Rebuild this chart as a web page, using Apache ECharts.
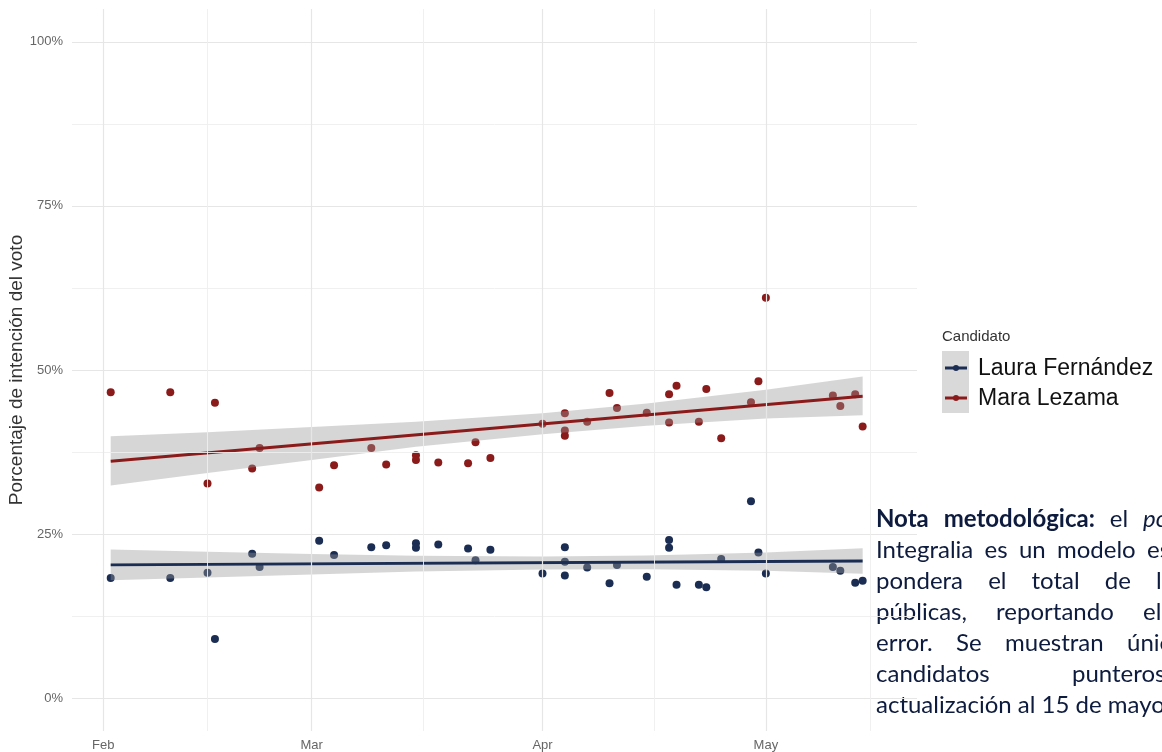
<!DOCTYPE html>
<html><head><meta charset="utf-8">
<script src="https://cdn.jsdelivr.net/npm/echarts@6/dist/echarts.min.js"></script>
<style>html,body{margin:0;padding:0;background:#fff}#c{width:1162px;height:752px}</style>
</head><body><div id="c"></div>
<script>
// ---------- data ----------
const candidates = ['Laura Fernández', 'Mara Lezama'];
const pollDates = ['2022-02-02','2022-02-10','2022-02-15','2022-02-16','2022-02-21','2022-02-22',
  '2022-03-02','2022-03-04','2022-03-09','2022-03-11','2022-03-15','2022-03-15','2022-03-18',
  '2022-03-22','2022-03-23','2022-03-25','2022-04-01','2022-04-04','2022-04-04','2022-04-04',
  '2022-04-07','2022-04-10','2022-04-11','2022-04-15','2022-04-18','2022-04-18','2022-04-19',
  '2022-04-22','2022-04-23','2022-04-25','2022-04-29','2022-04-30','2022-05-01','2022-05-10',
  '2022-05-11','2022-05-13','2022-05-14'];
const lauraValues = [18.3,18.3,19.1,9.0,22.0,20.0,24.0,21.8,23.0,23.3,23.6,22.9,23.4,22.8,21.0,22.6,
  19.0,23.0,20.8,18.7,19.9,17.5,20.3,18.5,24.1,22.9,17.3,17.3,16.9,21.2,30.0,22.2,19.0,20.0,19.4,17.6,17.9];
const maraValues = [46.6,46.6,32.7,45.0,35.0,38.1,32.1,35.5,38.1,35.6,37.0,36.3,35.9,35.8,39.0,36.6,
  41.8,43.4,40.8,40.0,42.1,46.5,44.2,43.5,46.3,42.0,47.6,42.1,47.1,39.6,45.1,48.3,61.0,46.1,44.5,46.3,41.4];

const fitDates = ['2022-02-02','2022-05-14'];
const lauraFit = [20.3, 20.9];
const maraFit = [36.1, 46.0];

const bandDates = ['2022-02-02','2022-02-15','2022-03-01','2022-03-15','2022-04-01','2022-04-15','2022-05-01','2022-05-14'];
const lauraLo = [17.95,18.4,18.85,19.3,19.6,19.65,19.4,18.95];
const lauraHi = [22.65,22.3,21.95,21.7,21.6,21.75,22.2,22.85];
const maraLo = [32.4,34.3,36.3,38.3,40.2,41.5,42.6,43.1];
const maraHi = [39.9,40.5,41.3,42.1,43.4,44.9,47.0,49.0];

const yTickValues = [0,25,50,75,100];
const yGridValues = [0,12.5,25,37.5,50,62.5,75,87.5,100];
const monthTicks = ['2022-02-01','2022-03-01','2022-04-01','2022-05-01'];
const monthLabels = ['Feb','Mar','Apr','May'];
const minorDates = ['2022-02-15','2022-03-16','2022-04-16','2022-05-15'];

const legendTitle = 'Candidato';
const yAxisTitle = 'Porcentaje de intención del voto';

// note text, one entry per printed line: [word, weight, style]
const noteText = [
  [['Nota','bold'],['metodológica:','bold'],['el'],['poll of polls','normal','italic']],
  [['Integralia'],['es'],['un'],['modelo'],['estadístico']],
  [['pondera'],['el'],['total'],['de'],['las']],
  [['públicas,'],['reportando'],['el']],
  [['error.'],['Se'],['muestran'],['únicamente']],
  [['candidatos'],['punteros.']],
  [['actualización al 15 de mayo.']]
];

// ---------- helpers ----------
const DAY = 86400000;
function ts(s){ return new Date(s + 'T00:00:00').getTime(); }
const colors = {laura:'#1b2d52', mara:'#8b1a1a'};
const xMin = ts('2022-02-01') - 4.2*DAY;
const xMax = ts('2022-05-01') + 20.3*DAY;
const monthTs = monthTicks.map(ts);

function bandSeries(name, lo, hi){
  return {
    type:'custom', name:name, z:3, silent:true,
    data: bandDates.map((d,i)=>[ts(d), lo[i], hi[i]]),
    encode:{x:0, y:[1,2]},
    renderItem: function(params, api){
      if (params.dataIndex !== 0) return null;
      const pts = [];
      for (let i=0;i<bandDates.length;i++) pts.push(api.coord([ts(bandDates[i]), hi[i]]));
      for (let i=bandDates.length-1;i>=0;i--) pts.push(api.coord([ts(bandDates[i]), lo[i]]));
      return {type:'polygon', shape:{points:pts}, style:{fill:'rgba(153,153,153,0.4)'}};
    }
  };
}

const gridLines = [];
yGridValues.forEach(v=>gridLines.push({yAxis:v, lineStyle:{color: v%25===0 ? '#e6e6e6' : '#eeeeee', width: v%25===0 ? 1.2 : 0.9, type:'solid'}}));
monthTs.forEach(t=>gridLines.push({xAxis:t, lineStyle:{color:'#e6e6e6', width:1.2, type:'solid'}}));
minorDates.forEach(d=>gridLines.push({xAxis:ts(d), lineStyle:{color:'#eeeeee', width:0.9, type:'solid'}}));

// ---------- note layout (justified text block, clipped by the page edge) ----------
const noteColor = '#0d1b3e';
const noteFont = 'Lato';
const noteSize = 24;
const noteLeft = 876;
const noteTop = 519, noteLineH = 31.1;
// x where the last visible word of each justified line starts (null = natural spacing)
const noteLastX = [1143, 1147, 1156, 1143, 1127, 1072, null];
const mctx = document.createElement('canvas').getContext('2d');
function wordWidth(w){
  mctx.font = (w[2]||'normal') + ' ' + (w[1]||'normal') + ' ' + noteSize + 'px ' + noteFont;
  return mctx.measureText(w[0]).width;
}
const noteGraphics = [];
noteText.forEach((words, li)=>{
  const y = noteTop + li*noteLineH;
  let gap = noteSize*0.26;
  if (noteLastX[li] !== null && words.length > 1) {
    let sum = 0;
    for (let i=0;i<words.length-1;i++) sum += wordWidth(words[i]);
    gap = (noteLastX[li] - noteLeft - sum) / (words.length-1);
  }
  let x = noteLeft;
  words.forEach(w=>{
    noteGraphics.push({type:'text', x:x, y:y, silent:true,
      style:{text:w[0], fill:noteColor, fontFamily:noteFont, fontSize:noteSize,
        fontWeight:w[1]||'normal', fontStyle:w[2]||'normal', verticalAlign:'middle', align:'left'}});
    x += wordWidth(w) + gap;
  });
});

const legendGraphics = [
  {type:'text', x:942, y:337, style:{text:legendTitle, fill:'#333', fontFamily:'Liberation Sans', fontSize:15, verticalAlign:'middle'}},
  {type:'rect', shape:{x:942, y:351, width:27, height:62}, style:{fill:'#d9d9d9'}},
  {type:'line', shape:{x1:945, y1:368, x2:967, y2:368}, style:{stroke:colors.laura, lineWidth:3}},
  {type:'circle', shape:{cx:956, cy:368, r:3}, style:{fill:colors.laura}},
  {type:'line', shape:{x1:945, y1:398, x2:967, y2:398}, style:{stroke:colors.mara, lineWidth:3}},
  {type:'circle', shape:{cx:956, cy:398, r:3}, style:{fill:colors.mara}},
  {type:'text', x:978, y:369, style:{text:candidates[0], fill:'#111', fontFamily:'Liberation Sans', fontSize:23, verticalAlign:'middle'}},
  {type:'text', x:978, y:399, style:{text:candidates[1], fill:'#111', fontFamily:'Liberation Sans', fontSize:23, verticalAlign:'middle'}}
];

const chart = echarts.init(document.getElementById('c'), null, {renderer:'canvas'});
chart.setOption({
  animation:false,
  backgroundColor:'#fff',
  grid:{left:72, right:245, top:9, bottom:21, containLabel:false, outerBoundsMode:'none'},
  xAxis:{type:'value', min:xMin, max:xMax, scale:true,
    axisLine:{show:false}, axisTick:{show:false}, splitLine:{show:false},
    axisLabel:{customValues: monthTs, margin:8, color:'#666', fontSize:13, fontFamily:'Liberation Sans',
      formatter: function(v){ const i = monthTs.indexOf(v); return i>=0 ? monthLabels[i] : ''; }}},
  yAxis:{type:'value', min:-5, max:105,
    axisLine:{show:false}, axisTick:{show:false}, splitLine:{show:false},
    axisLabel:{customValues: yTickValues, margin:9, color:'#666', fontSize:13, fontFamily:'Liberation Sans', formatter: v=>v+'%'},
    name:yAxisTitle, nameLocation:'middle', nameGap:46, nameRotate:90, nameMoveOverlap:false,
    nameTextStyle:{fontSize:19, color:'#333', fontFamily:'Liberation Sans'}},
  series:[
    {type:'line', name:'grid', data:[], z:0, silent:true,
      markLine:{silent:true, symbol:'none', animation:false, label:{show:false}, lineStyle:{type:'solid'}, data:gridLines}},
    {type:'scatter', name:candidates[0], z:2, symbolSize:8, itemStyle:{color:colors.laura, opacity:1},
      data: pollDates.map((d,i)=>[ts(d), lauraValues[i]])},
    {type:'scatter', name:candidates[1], z:2, symbolSize:8, itemStyle:{color:colors.mara, opacity:1},
      data: pollDates.map((d,i)=>[ts(d), maraValues[i]])},
    bandSeries(candidates[0]+' banda', lauraLo, lauraHi),
    bandSeries(candidates[1]+' banda', maraLo, maraHi),
    {type:'line', name:candidates[0]+' ajuste', z:4, showSymbol:false, symbol:'none', silent:true,
      lineStyle:{color:colors.laura, width:2.8}, data: fitDates.map((d,i)=>[ts(d), lauraFit[i]])},
    {type:'line', name:candidates[1]+' ajuste', z:4, showSymbol:false, symbol:'none', silent:true,
      lineStyle:{color:colors.mara, width:2.8}, data: fitDates.map((d,i)=>[ts(d), maraFit[i]])}
  ],
  graphic: legendGraphics.concat(noteGraphics)
});
</script>
</body></html>
